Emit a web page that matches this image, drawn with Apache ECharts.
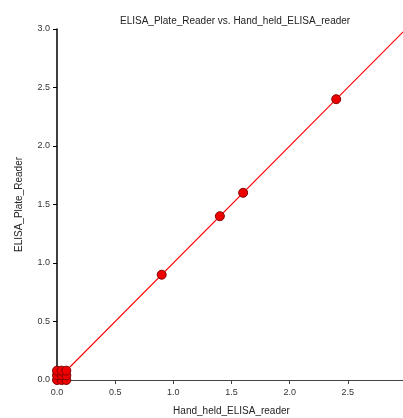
<!DOCTYPE html>
<html>
<head>
<meta charset="utf-8">
<script src="https://cdn.jsdelivr.net/npm/echarts@6/dist/echarts.min.js"></script>
<style>
  html, body { margin:0; padding:0; background:#fff; }
  #chart { width:403px; height:418px; }
</style>
</head>
<body>
<div id="chart"></div>
<script>
// measured pairs: hand-held reader (x) vs plate reader (y)
const handHeld = [0, 0.04, 0.08, 0, 0.04, 0.08, 0, 0.04, 0.08, 0.9, 1.4, 1.6, 2.4];
const plateReader = [0, 0, 0, 0.04, 0.04, 0.04, 0.08, 0.08, 0.08, 0.9, 1.4, 1.6, 2.4];
// fitted line endpoints
const fitX = [0, 3];
const fitY = [0, 3];

const dom = document.getElementById('chart');
const chart = echarts.init(dom);

const font = 'Liberation Sans, Arial, sans-serif';

chart.setOption({
  animation: false,
  title: {
    text: 'ELISA_Plate_Reader vs. Hand_held_ELISA_reader',
    left: 115, top: 11,
    textStyle: {fontSize: 10, fontWeight: 'normal', color: '#222', fontFamily: font}
  },
  grid: {left: 57, top: 29, width: 349, height: 351, outerBoundsMode: 'none', containLabel: false},
  xAxis: {
    type: 'value', min: 0, max: 3, interval: 0.5,
    name: 'Hand_held_ELISA_reader', nameLocation: 'middle', nameGap: 26,
    nameTextStyle: {fontSize: 10, color: '#222', fontFamily: font},
    axisLine: {show: true, onZero: false, lineStyle: {color: '#444', width: 1}},
    axisTick: {show: true, length: 4, lineStyle: {color: '#444'}},
    axisLabel: {fontSize: 9, color: '#333', fontFamily: font, margin: 8,
      formatter: v => v === 3 ? '3' : v.toFixed(1)},
    splitLine: {show: false}
  },
  yAxis: {
    type: 'value', min: 0, max: 3, interval: 0.5,
    name: 'ELISA_Plate_Reader', nameLocation: 'middle', nameGap: 33,
    nameTextStyle: {fontSize: 10, color: '#222', fontFamily: font},
    axisLine: {show: true, onZero: false, lineStyle: {color: '#000', width: 1.5}},
    axisTick: {show: true, length: 4, lineStyle: {color: '#000'}},
    axisLabel: {fontSize: 9, color: '#333', fontFamily: font, margin: 7,
      formatter: v => v.toFixed(1)},
    splitLine: {show: false}
  },
  series: [
    {
      type: 'line',
      data: fitX.map((x, i) => [x, fitY[i]]),
      showSymbol: false,
      itemStyle: {color: '#ff0000'},
      lineStyle: {color: '#ff0000', width: 1.1},
      z: 2
    },
    {
      type: 'scatter',
      data: handHeld.map((x, i) => [x, plateReader[i]]),
      symbolSize: 9,
      itemStyle: {color: '#ee0000', borderColor: '#800000', borderWidth: 1, opacity: 1},
      z: 3
    }
  ]
});
</script>
</body>
</html>
